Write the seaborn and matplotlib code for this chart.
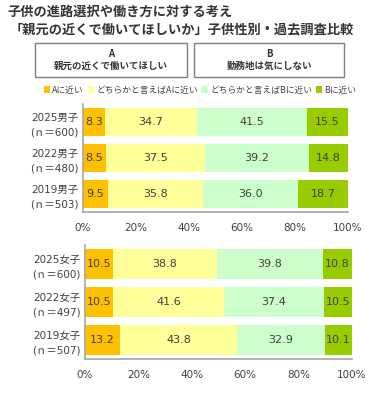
import pandas as pd
import matplotlib
matplotlib.use("Agg")
import matplotlib.pyplot as plt
import seaborn as sns
from matplotlib.patches import Rectangle, Patch

# Datos (porcentajes)
boys_labels = ["2025男子\n(ｎ＝600)", "2022男子\n(ｎ＝480)", "2019男子\n(ｎ＝503)"]
boys_a = [8.3, 8.5, 9.5]
boys_ma = [34.7, 37.5, 35.8]
boys_mb = [41.5, 39.2, 36.0]
boys_b = [15.5, 14.8, 18.7]

girls_labels = ["2025女子\n(ｎ＝600)", "2022女子\n(ｎ＝497)", "2019女子\n(ｎ＝507)"]
girls_a = [10.5, 10.5, 13.2]
girls_ma = [38.8, 41.6, 43.8]
girls_mb = [39.8, 37.4, 32.9]
girls_b = [10.8, 10.5, 10.1]

categories = ["Aに近い", "どちらかと言えばAに近い", "どちらかと言えばBに近い", "Bに近い"]
colors = ["#FFC000", "#FFFF99", "#CCFFCC", "#99CC00"]

title1 = "子供の進路選択や働き方に対する考え"
title2 = "「親元の近くで働いてほしいか」子供性別・過去調査比較"
box_a = "A\n親元の近くで働いてほしい"
box_b = "B\n勤務地は気にしない"

sns.set_theme(style="white")
plt.rcParams['font.family'] = ['DejaVu Sans', 'Noto Sans CJK JP']
text_color = "#404040"
spine_color = "#A6A6A6"

fig = plt.figure(figsize=(3.82, 3.93), dpi=100)


def stacked(ax, labels, series):
    df = pd.DataFrame({"label": labels})
    cols = []
    running = [0.0] * len(labels)
    for k, vals in enumerate(series):
        running = [r + v for r, v in zip(running, vals)]
        df[f"cum{k}"] = running
        cols.append(f"cum{k}")
    # draw from the widest cumulative bar down so each layer overlays the previous
    for k in reversed(range(len(series))):
        sns.barplot(data=df, x=cols[k], y="label", color=colors[k], orient="h",
                    width=0.8, saturation=1, linewidth=0, ax=ax)
    for k, vals in enumerate(series):
        for i, v in enumerate(vals):
            ax.text(df[cols[k]][i] - v / 2, i, f"{v:.1f}", ha="center", va="center",
                    fontsize=8, color=text_color)
    ax.set_xlim(0, 100)
    ax.set_ylim(len(labels) - 0.5, -0.5)
    ax.set_xticks(range(0, 101, 20))
    ax.set_xticklabels([f"{t}%" for t in range(0, 101, 20)])
    ax.set_xlabel("")
    ax.set_ylabel("")
    for s in ["top", "right"]:
        ax.spines[s].set_visible(False)
    for s in ["left", "bottom"]:
        ax.spines[s].set_color(spine_color)
        ax.spines[s].set_linewidth(1.2)
    ax.tick_params(axis="y", which="major", length=0, labelsize=7.5, labelcolor=text_color, pad=3)
    ax.set_yticks([i - 0.5 for i in range(len(labels) + 1)], minor=True)
    ax.tick_params(axis="y", which="minor", length=3, color=spine_color, width=1.2, direction="out")
    ax.tick_params(axis="x", length=3, color=spine_color, width=1.2, direction="out",
                   labelsize=7.5, labelcolor=text_color, pad=5)
    for t in ax.get_yticklabels():
        t.set_multialignment("right")
        t.set_linespacing(1.55)


ax1 = fig.add_axes([83 / 382, 1 - 212 / 393, 265 / 382, 108 / 393])
stacked(ax1, boys_labels, [boys_a, boys_ma, boys_mb, boys_b])

ax2 = fig.add_axes([85 / 382, 1 - 359 / 393, 267 / 382, 114 / 393])
stacked(ax2, girls_labels, [girls_a, girls_ma, girls_mb, girls_b])

# Títulos
cjk = ['Noto Sans CJK JP', 'DejaVu Sans']
fig.text(8 / 382, 1 - 12 / 393, title1, ha="left", va="center", fontsize=9.5,
         fontweight="bold", color="#333333", family=cjk)
fig.text(10 / 382, 1 - 29 / 393, title2, ha="left", va="center", fontsize=9.5,
         fontweight="bold", color="#333333", family=cjk)

# Cajas A / B
for x0, x1, txt in [(35, 187, box_a), (194, 344, box_b)]:
    fig.patches.append(Rectangle((x0 / 382, 1 - 77 / 393), (x1 - x0) / 382, 34 / 393,
                                 transform=fig.transFigure, facecolor="white",
                                 edgecolor="#7F7F7F", linewidth=1.0))
    fig.text((x0 + x1) / 2 / 382, 1 - 60 / 393, txt, ha="center", va="center",
             fontsize=6.8, fontweight="bold", color="#333333", family=cjk, linespacing=1.3)

# Leyenda
handles = [Patch(facecolor=c, edgecolor="none", label=l) for c, l in zip(colors, categories)]
fig.legend(handles=handles, loc="center", bbox_to_anchor=(200 / 382, 1 - 90 / 393), ncol=4,
           frameon=False, handlelength=0.7, handleheight=0.7, handletextpad=0.3,
           columnspacing=0.4, prop={"family": cjk, "size": 6.3}, labelcolor=text_color,
           borderaxespad=0, borderpad=0)

plt.savefig("out.png", dpi=100)
plt.close()
